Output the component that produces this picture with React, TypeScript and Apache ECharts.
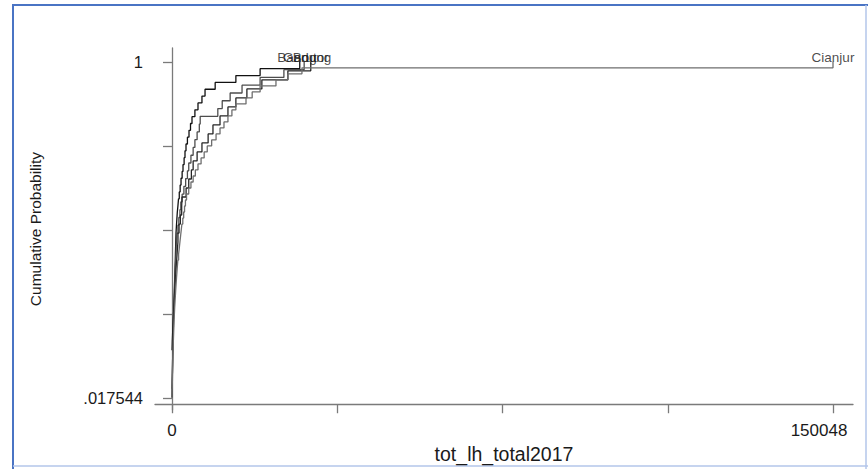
import React, { useEffect, useRef } from "react";
import * as echarts from "echarts";

// tot_lh_total2017 per observation, sorted, one array per kabupaten
const districts = ["Garut", "Bandung", "Bogor", "Cianjur"];

const garut = [
  0, 20, 50, 80, 100, 130, 150, 180, 200, 230,
  260, 300, 340, 400, 450, 500, 540, 590, 640, 690,
  740, 780, 820, 870, 910, 1000, 1100, 1200, 1350, 1480,
  1650, 1850, 2050, 2300, 2500, 2750, 2950, 3180, 3500, 3860,
  4200, 4540, 5200, 5900, 6800, 7500, 9800, 14500, 20000, 29000,
];

const bandung = [
  0, 0, 40, 90, 120, 150, 190, 230, 270, 320,
  370, 420, 480, 540, 600, 660, 720, 790, 860, 930,
  1000, 1100, 1350, 1550, 1800, 2000, 2300, 2700, 3100, 3500,
  3800, 4300, 4800, 5200, 5700, 6200, 6400, 10400, 11400, 13200,
  15900, 20000, 25400, 30000,
];

const bogor = [
  0, 0, 0, 0, 0, 0, 60, 150, 250, 350,
  450, 560, 680, 800, 930, 1060, 1200, 1350, 1360, 1600,
  1900, 2200, 2270, 3200, 3800, 4400, 4800, 5700, 6800, 8200,
  9300, 10900, 12700, 14500, 17000, 20400, 26300, 31500,
];

const cianjur = [
  0, 30, 60, 90, 120, 150, 180, 210, 250, 290,
  330, 380, 430, 480, 540, 600, 680, 760, 840, 930,
  1020, 1120, 1220, 1330, 1500, 1650, 1800, 1950, 2100, 2250,
  2450, 2650, 2850, 3050, 3300, 3800, 4300, 4800, 5300, 5900,
  6600, 7300, 8000, 9000, 10000, 10900, 11800, 12700, 13600, 14500,
  16800, 18200, 20000, 23600, 26300, 29500, 150048,
];

const seriesValues = [garut, bandung, bogor, cianjur];
const lineColors = ["#111111", "#4d4d4d", "#262626", "#6e6e6e"];

const xTicks = [0, 37512, 75024, 112536, 150048];
const xTickLabels = [0, 150048];
const yTicks = [0.017544, 0.263158, 0.508772, 0.754386, 1];
const yTickLabels = [0.017544, 1];

const FONT = "'Liberation Sans', Arial, Helvetica, sans-serif";

// empirical cumulative distribution: one point per distinct value
function ecdf(values: number[]): [number, number][] {
  const sorted = [...values].sort((a, b) => a - b);
  const n = sorted.length;
  const pts: [number, number][] = [];
  for (let i = 0; i < n; i++) {
    if (i < n - 1 && sorted[i + 1] === sorted[i]) continue;
    pts.push([sorted[i], (i + 1) / n]);
  }
  return pts;
}

export default function App() {
  const ref = useRef<HTMLDivElement>(null);

  useEffect(() => {
    if (!ref.current) return;
    const chart = echarts.init(ref.current, undefined, { renderer: "svg" });

    // plot region in pixels and where the first/last ticks sit inside it
    const gLeft = 155, gRight = 853, gTop = 48, gBottom = 414;
    const xFirst = 172, xLast = 833, yFirst = 402, yLast = 62;
    const xSpan = xTicks[xTicks.length - 1] - xTicks[0];
    const xPer = xSpan / (xLast - xFirst);
    const ySpan = yTicks[yTicks.length - 1] - yTicks[0];
    const yPer = ySpan / (yFirst - yLast);

    const lines = seriesValues.map((vals, k) => ({
      type: "line",
      name: districts[k],
      data: ecdf(vals),
      step: "end",
      showSymbol: false,
      symbol: "none",
      lineStyle: { color: lineColors[k], width: 1.3 },
      silent: true,
      z: 2,
    }));

    const endLabels = seriesValues.map((vals, k) => ({
      type: "scatter",
      name: districts[k] + " label",
      data: [[Math.max(...vals), 1]],
      symbolSize: 0,
      silent: true,
      label: {
        show: true,
        position: "inside",
        offset: [0, -4],
        formatter: districts[k],
        color: "#1a1a1a",
        fontFamily: FONT,
        fontSize: 13.5,
      },
      z: 3,
    }));

    chart.setOption({
      animation: false,
      backgroundColor: "#ffffff",
      grid: {
        left: gLeft,
        right: 868 - gRight,
        top: gTop,
        bottom: 469 - gBottom,
        containLabel: false,
      },
      xAxis: {
        type: "value",
        min: xTicks[0] - (xFirst - gLeft) * xPer,
        max: xTicks[xTicks.length - 1] + (gRight - xLast) * xPer,
        name: "tot_lh_total2017",
        nameLocation: "middle",
        nameGap: 29,
        nameTextStyle: { fontFamily: FONT, fontSize: 19.5, color: "#1a1a1a" },
        splitLine: { show: false },
        axisLine: { show: true, lineStyle: { color: "#7a7a7a", width: 1.3 } },
        axisTick: {
          show: true,
          length: 9,
          customValues: xTicks,
          lineStyle: { color: "#7a7a7a", width: 1.3 },
        },
        axisLabel: {
          show: true,
          customValues: xTickLabels,
          margin: 12,
          fontFamily: FONT,
          fontSize: 17,
          color: "#1a1a1a",
          formatter: (v: number) =>
            v === xTickLabels[xTickLabels.length - 1] ? "{r|" + v + "}" : String(v),
          rich: {
            r: { fontFamily: FONT, fontSize: 17, color: "#1a1a1a", padding: [0, 28, 0, 0] },
          },
        },
      },
      yAxis: {
        type: "value",
        min: yTicks[0] - (gBottom - yFirst) * yPer,
        max: yTicks[yTicks.length - 1] + (yLast - gTop) * yPer,
        name: "Cumulative Probability",
        nameLocation: "middle",
        nameGap: 112,
        nameTextStyle: { fontFamily: FONT, fontSize: 15.5, color: "#1a1a1a" },
        splitLine: { show: false },
        axisLine: { show: true, lineStyle: { color: "#7a7a7a", width: 1.3 } },
        axisTick: {
          show: true,
          length: 9,
          customValues: yTicks,
          lineStyle: { color: "#7a7a7a", width: 1.3 },
        },
        axisLabel: {
          show: true,
          customValues: yTickLabels,
          margin: 12,
          fontFamily: FONT,
          fontSize: 16.5,
          color: "#1a1a1a",
          formatter: (v: number) =>
            v === 1 ? "1" : v.toFixed(6).replace(/^0/, ""),
        },
      },
      graphic: [
        { type: "line", shape: { x1: 12, y1: 5, x2: 868, y2: 5 }, style: { stroke: "#4a74c4", lineWidth: 2 }, silent: true },
        { type: "line", shape: { x1: 13, y1: 4, x2: 13, y2: 469 }, style: { stroke: "#4a74c4", lineWidth: 2 }, silent: true },
        { type: "line", shape: { x1: 866, y1: 5, x2: 866, y2: 469 }, style: { stroke: "#b3c6ea", lineWidth: 1.5 }, silent: true },
        { type: "line", shape: { x1: 13, y1: 466, x2: 868, y2: 466 }, style: { stroke: "#b3c6ea", lineWidth: 1.5 }, silent: true },
      ],
      series: [...lines, ...endLabels],
    });

    return () => chart.dispose();
  }, []);

  return (
    <div
      ref={ref}
      style={{ position: "absolute", left: 0, top: 0, width: 868, height: 469 }}
    />
  );
}
